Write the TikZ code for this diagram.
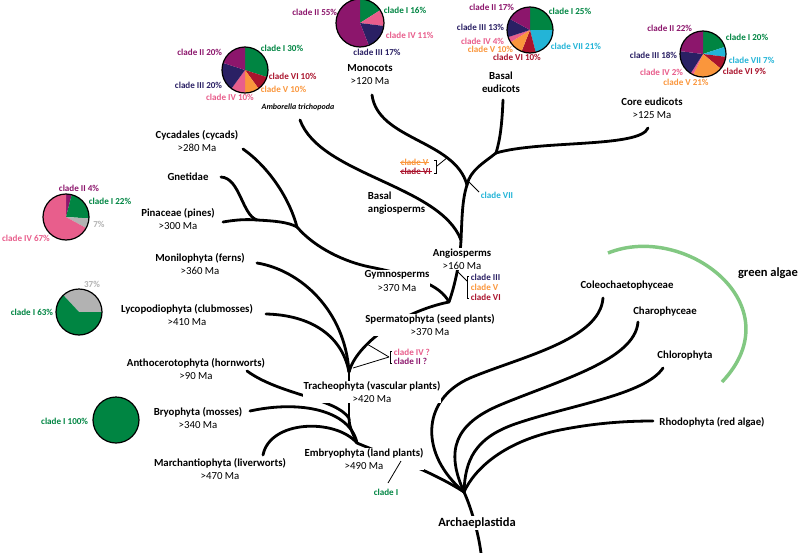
\documentclass[tikz,border=0pt]{standalone}
\usepackage{fontspec}
\setmainfont{Carlito}
\definecolor{cI}{RGB}{0,133,66}
\definecolor{cII}{RGB}{140,22,108}
\definecolor{cIII}{RGB}{42,32,100}
\definecolor{cIV}{RGB}{232,94,140}
\definecolor{cV}{RGB}{250,150,60}
\definecolor{cVI}{RGB}{170,20,45}
\definecolor{cVII}{RGB}{35,180,215}
\definecolor{cG}{RGB}{178,178,178}
\definecolor{ga}{RGB}{130,200,130}
\newcommand\pslice[5]{\fill[#5] (#1) -- ++({#3-90}:#2) arc[start angle={#3-90}, end angle={#4-90}, radius=#2] -- cycle;}
\begin{document}
\begin{tikzpicture}[x=0.75pt,y=-0.75pt]
\tikzset{
 br/.style={line width=2.1pt, line cap=round},
 tk/.style={line width=0.6pt},
 lab/.style={font=\fontsize{8.1}{9.8}\selectfont, align=center, inner sep=0.5pt},
 labw/.style={lab, fill=white},
 cl/.style={font=\bfseries\fontsize{6.8}{8}\selectfont, inner sep=0.5pt},
 big/.style={font=\bfseries\fontsize{9.4}{11}\selectfont, inner sep=1pt},
 pieedge/.style={line width=0.9pt},
}
\useasboundingbox (0,0) rectangle (800,553);

% ---------- tree coordinates ----------
\coordinate (root) at (481,553);
\coordinate (J0) at (464,492);
\coordinate (E) at (357,443);
\coordinate (H) at (349,418);
\coordinate (T) at (349,372);
\coordinate (S) at (449,302);
\coordinate (A) at (461,240);
\coordinate (Mes) at (467,185);
\coordinate (Eud) at (496,153);
\coordinate (G) at (297,227);
\coordinate (GP) at (257,220);
\coordinate (gmid) at (370,267);
\coordinate (tCol) at (603,298);
\coordinate (tChara) at (638,322);
\coordinate (tChlo) at (663,368);
\coordinate (tRho) at (653,421);
\coordinate (tLiv) at (263,455);
\coordinate (tMos) at (250,411);
\coordinate (tHor) at (247,371);
\coordinate (tLyc) at (266,314);
\coordinate (tFern) at (257,263);
\coordinate (tPin) at (223,222);
\coordinate (tGne) at (221,177);
\coordinate (tCyc) at (243,149);
\coordinate (tAmb) at (300,120);
\coordinate (tMono) at (372,95);
\coordinate (tBasEu) at (503,100);
\coordinate (tCore) at (648,128);
\coordinate (colm) at (470,378);
\coordinate (cham) at (500,405);
\coordinate (chlm) at (515,424);
\coordinate (rhom) at (560,430);

% ---------- branches ----------
\draw[br] (root) .. controls (478,530) and (470,505) .. (J0);
\draw[br] (J0) .. controls (430,470) and (385,455) .. (E);
\draw[br] (J0) .. controls (420,455) and (420,400) .. (colm) .. controls (520,357) and (600,340) .. (tCol);
\draw[br] (J0) .. controls (445,450) and (455,424) .. (cham) .. controls (560,380) and (635,360) .. (tChara);
\draw[br] (J0) .. controls (465,460) and (475,438) .. (chlm) .. controls (570,405) and (645,395) .. (tChlo);
\draw[br] (J0) .. controls (475,468) and (505,441) .. (rhom) .. controls (590,424) and (620,421) .. (tRho);

\draw[br] (E) .. controls (351,430) and (349,425) .. (H);
\draw[br] (H) -- (T);
\draw[br] (tLiv) .. controls (270,420) and (335,418) .. (E);
\draw[br] (tMos) .. controls (300,400) and (350,410) .. (E);
\draw[br] (tHor) .. controls (280,395) and (335,398) .. (H);
\draw[br] (tLyc) .. controls (310,315) and (342,335) .. (T);
\draw[br] (tFern) .. controls (300,270) and (345,310) .. (T);
\draw[br] (T) .. controls (356,345) and (400,312) .. (S);
\draw[br] (G) .. controls (315,248) and (345,262) .. (gmid) .. controls (415,276) and (440,285) .. (S);
\draw[br] (GP) .. controls (275,221) and (288,222) .. (G);
\draw[br] (tCyc) .. controls (270,168) and (290,200) .. (G);
\draw[br] (tGne) .. controls (240,178) and (242,215) .. (GP);
\draw[br] (tPin) .. controls (235,220) and (245,219) .. (GP);
\draw[br] (S) .. controls (455,285) and (460,262) .. (A);
\draw[br] (A) .. controls (462,220) and (462,200) .. (Mes);
\draw[br] (tAmb) .. controls (320,175) and (440,185) .. (A);
\draw[br] (tMono) .. controls (378,140) and (455,140) .. (Mes);
\draw[br] (Eud) .. controls (485,162) and (470,170) .. (Mes);
\draw[br] (tBasEu) .. controls (502,125) and (500,140) .. (Eud);
\draw[br] (tCore) .. controls (640,148) and (540,140) .. (Eud);

% green algae arc
\coordinate (ga1) at (608,253);
\coordinate (ga2) at (722,382);
\draw[line width=2.6pt, ga] (ga1) .. controls (685,222) and (795,305) .. (ga2);

% ---------- tree labels ----------
\node[lab] (nCyc) at (197,141) {\textbf{Cycadales (cycads)}\\>280 Ma};
\node[lab] (nGne) at (188,177) {\textbf{Gnetidae}};
\node[lab] (nPin) at (178,219) {\textbf{Pinaceae (pines)}\\>300 Ma};
\node[lab] (nFern) at (200,264) {\textbf{Monilophyta (ferns)}\\>360 Ma};
\node[lab] (nLyc) at (187,315) {\textbf{Lycopodiophyta (clubmosses)}\\>410 Ma};
\node[lab] (nHor) at (196,369) {\textbf{Anthocerotophyta (hornworts)}\\>90 Ma};
\node[lab] (nMos) at (198,418) {\textbf{Bryophyta (mosses)}\\>340 Ma};
\node[lab] (nLiv) at (220,469) {\textbf{Marchantiophyta (liverworts)}\\>470 Ma};
\node[labw] (nEmb) at (364,459) {\textbf{Embryophyta (land plants)}\\>490 Ma};
\node[labw] (nTra) at (372,392) {\textbf{Tracheophyta (vascular plants)}\\>420 Ma};
\node[labw] (nSpe) at (430,325) {\textbf{Spermatophyta (seed plants)}\\>370 Ma};
\node[labw] (nGym) at (397,281) {\textbf{Gymnosperms}\\>370 Ma};
\node[labw] (nAng) at (462,259) {\textbf{Angiosperms}\\>160 Ma};
\node[lab, align=left, anchor=west] (nBA) at (367,203) {\textbf{Basal}\\\textbf{angiosperms}};
\node[lab] (nMono) at (370,75) {\textbf{Monocots}\\>120 Ma};
\node[lab] (nBE) at (501,82) {\textbf{Basal}\\\textbf{eudicots}};
\node[lab] (nCore) at (652,108) {\textbf{Core eudicots}\\>125 Ma};
\node[font=\bfseries\itshape\fontsize{6}{7}\selectfont, inner sep=0.5pt] (nAmb) at (298,107) {Amborella trichopoda};
\node[big, fill=white] (nArch) at (477,523) {Archaeplastida};
\node[lab] (nCol) at (627,286) {\textbf{Coleochaetophyceae}};
\node[lab] (nChara) at (665,312) {\textbf{Charophyceae}};
\node[lab] (nChlo) at (685,356) {\textbf{Chlorophyta}};
\node[lab] (nRho) at (712,422) {\textbf{Rhodophyta (red algae)}};
\node[big] (nGA) at (768,273) {green algae};

% ---------- clade gain/loss marks ----------
\node[cl, cI] (kI) at (386,492) {clade I};
\coordinate (kIb) at (388,483);
\coordinate (kIt) at (401,461);
\draw[tk] (kIb) -- (kIt);

\node[cl, cIV, anchor=west] (kIVq) at (393,352) {clade IV ?};
\node[cl, cII, anchor=west] (kIIq) at (393,361) {clade II ?};
\coordinate (bq) at (389,357);
\coordinate (bq1) at (367,344);
\coordinate (bq2) at (353,368);
\draw[tk] (392,351) -- (390,351) -- (390,363) -- (392,363);
\draw[tk] (bq) -- (bq1);
\draw[tk] (bq) -- (bq2);

\node[cl, cIII, anchor=west] (kIII) at (470,277) {clade III};
\node[cl, cV, anchor=west] (kV) at (470,287) {clade V};
\node[cl, cVI, anchor=west] (kVI) at (470,297) {clade VI};
\coordinate (b3) at (467,281);
\coordinate (b3t) at (458,272);
\draw[tk] (469,276) -- (467,276) -- (467,298) -- (469,298);
\draw[tk] (b3) -- (b3t);

\node[cl, cV, anchor=west] (kVs) at (400,162) {clade V};
\node[cl, cVI, anchor=west] (kVIs) at (400,171) {clade VI};
\draw[cV, line width=0.5pt] (kVs.west) -- (kVs.east);
\draw[cVI, line width=0.5pt] (kVIs.west) -- (kVIs.east);
\coordinate (b4) at (437,166);
\coordinate (b4t) at (448,157);
\draw[tk] (434,160) -- (436,160) -- (436,173) -- (434,173);
\draw[tk] (b4) -- (b4t);

\node[cl, cVII, anchor=west] (kVII) at (480,195) {clade VII};
\coordinate (b5) at (479,192);
\coordinate (b5t) at (469,182);
\draw[tk] (b5) -- (b5t);

% ---------- pies ----------
\coordinate (pA) at (245,70);
\pslice{pA}{23}{0}{108}{cI}
\pslice{pA}{23}{108}{144}{cVI}
\pslice{pA}{23}{144}{180}{cV}
\pslice{pA}{23}{180}{216}{cIV}
\pslice{pA}{23}{216}{288}{cIII}
\pslice{pA}{23}{288}{360}{cII}
\draw[pieedge] (pA) circle[radius=23];
\node[cl, cII, anchor=east] at (223,52) {clade II 20\%};
\node[cl, cI, anchor=west] at (260,48) {clade I 30\%};
\node[cl, cVI, anchor=west] at (268,76) {clade VI 10\%};
\node[cl, cV, anchor=west] at (260,89) {clade V 10\%};
\node[cl, cIV] at (230,97) {clade IV 10\%};
\node[cl, cIII, anchor=east] at (223,85) {clade III 20\%};

\coordinate (pM) at (360,23);
\pslice{pM}{24}{0}{57.6}{cI}
\pslice{pM}{24}{57.6}{97.2}{cIV}
\pslice{pM}{24}{97.2}{158.4}{cIII}
\pslice{pM}{24}{158.4}{360}{cII}
\draw[pieedge] (pM) circle[radius=24];
\node[cl, cII, anchor=east] at (338,12) {clade II 55\%};
\node[cl, cI, anchor=west] at (383,10) {clade I 16\%};
\node[cl, cIV, anchor=west] at (385,35) {clade IV 11\%};
\node[cl, cIII] at (377,52) {clade III 17\%};

\coordinate (pB) at (530,30);
\pslice{pB}{23}{0}{90}{cI}
\pslice{pB}{23}{90}{165.6}{cVII}
\pslice{pB}{23}{165.6}{201.6}{cVI}
\pslice{pB}{23}{201.6}{237.6}{cV}
\pslice{pB}{23}{237.6}{252}{cIV}
\pslice{pB}{23}{252}{298.8}{cIII}
\pslice{pB}{23}{298.8}{360}{cII}
\draw[pieedge] (pB) circle[radius=23];
\node[cl, cII, anchor=east] at (515,7) {clade II 17\%};
\node[cl, cI, anchor=west] at (548,11) {clade I 25\%};
\node[cl, cIII, anchor=east] at (505,27) {clade III 13\%};
\node[cl, cIV, anchor=east] at (505,41) {clade IV 4\%};
\node[cl, cV, anchor=east] at (514,49) {clade V 10\%};
\node[cl, cVI] at (517,57) {clade VI 10\%};
\node[cl, cVII, anchor=west] at (550,46) {clade VII 21\%};

\coordinate (pC) at (703,54);
\pslice{pC}{23}{0}{72}{cI}
\pslice{pC}{23}{72}{97.2}{cVII}
\pslice{pC}{23}{97.2}{129.6}{cVI}
\pslice{pC}{23}{129.6}{205.2}{cV}
\pslice{pC}{23}{205.2}{212.4}{cIV}
\pslice{pC}{23}{212.4}{277.2}{cIII}
\pslice{pC}{23}{277.2}{360}{cII}
\draw[pieedge] (pC) circle[radius=23];
\node[cl, cII, anchor=east] at (693,28) {clade II 22\%};
\node[cl, cI, anchor=west] at (725,37) {clade I 20\%};
\node[cl, cVII, anchor=west] at (728,60) {clade VII 7\%};
\node[cl, cVI, anchor=west] at (722,71) {clade VI 9\%};
\node[cl, cV] at (686,82) {clade V 21\%};
\node[cl, cIV, anchor=east] at (684,72) {clade IV 2\%};
\node[cl, cIII, anchor=east] at (678,55) {clade III 18\%};

\coordinate (pP) at (66,217);
\pslice{pP}{23}{0}{14.4}{cII}
\pslice{pP}{23}{14.4}{93.6}{cI}
\pslice{pP}{23}{93.6}{118.8}{cG}
\pslice{pP}{23}{118.8}{360}{cIV}
\draw[pieedge] (pP) circle[radius=23];
\node[cl, cII] at (79,188) {clade II 4\%};
\node[cl, cI, anchor=west] at (88,201) {clade I 22\%};
\node[cl, cG] at (99,224) {7\%};
\node[cl, cIV] at (26,238) {clade IV 67\%};

\coordinate (pL) at (79,312);
\pslice{pL}{23}{-43}{90}{cG}
\pslice{pL}{23}{90}{317}{cI}
\draw[pieedge] (pL) circle[radius=23];
\node[cl, cG] at (92,284) {37\%};
\node[cl, cI, anchor=east] at (54,312) {clade I 63\%};

\coordinate (pR) at (116,420);
\fill[cI] (pR) circle[radius=23];
\draw[pieedge] (pR) circle[radius=23];
\node[cl, cI, anchor=east] at (89,421) {clade I 100\%};
\end{tikzpicture}
\end{document}
